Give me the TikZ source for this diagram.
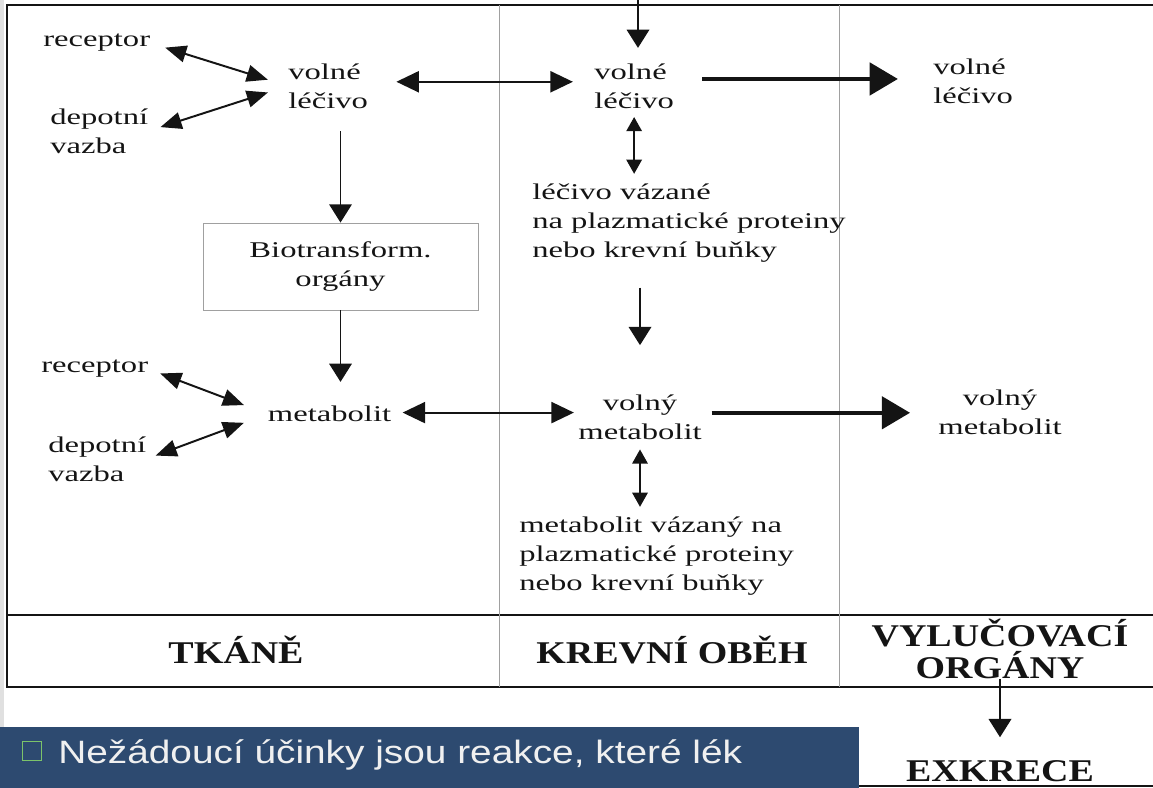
\documentclass[tikz,border=0pt]{standalone}
\usepackage{fontspec}
\setmainfont{Liberation Serif}
\newfontfamily\bodyfont{Liberation Serif}[FakeStretch=1.45]
\newfontfamily\headfont{Liberation Serif}[FakeStretch=1.2]
\newfontfamily\slidefont{Liberation Sans}[FakeStretch=1.2]
\usetikzlibrary{arrows.meta}

\definecolor{ink}{HTML}{141414}
\definecolor{rule}{HTML}{A0A0A0}
\definecolor{slide}{HTML}{2D4A70}
\definecolor{bullet}{HTML}{7CC36A}

\begin{document}
\begin{tikzpicture}[x=0.025cm, y=-0.025cm, text=ink]
  \useasboundingbox (0,0) rectangle (1153,788);
  \tikzset{
    lbl/.style={font=\bodyfont\fontsize{16}{20.5}\selectfont,align=left,inner sep=0pt},
    head/.style={font=\headfont\bfseries\fontsize{22.5}{22.5}\selectfont,align=center,inner sep=0pt},
    arr/.style={ink,line width=1.4pt,-{Triangle[length=13pt,width=16pt]}},
    twoway/.style={ink,line width=1.4pt,{Triangle[length=15pt,width=12pt]}-{Triangle[length=15pt,width=12pt]}},
    bigway/.style={ink,line width=1.4pt,{Triangle[length=16pt,width=15pt]}-{Triangle[length=16pt,width=15pt]}},
    thick arr/.style={ink,line width=2.6pt,-{Triangle[length=20pt,width=23pt]}},
    small way/.style={ink,line width=1pt,{Triangle[length=10pt,width=11pt]}-{Triangle[length=10pt,width=11pt]}}
  }

  % Page edge and the frame of the table; thin rules split the three columns.
  \fill[black!12] (0,0) rectangle (4,727);
  \draw[ink,line width=1.5pt] (1153,5) -- (7,5) -- (7,687) -- (1153,687);
  \draw[ink,line width=1.5pt] (7,615) -- (1153,615);
  \draw[rule,line width=0.6pt] (499,5) -- (499,687);
  \draw[rule,line width=0.6pt] (839,5) -- (839,687);

  % Column titles.
  \node[head,anchor=base] (tissue) at (236,663) {TKÁNĚ};
  \node[head,anchor=base] (blood) at (672,663) {KREVNÍ OBĚH};
  \node[head] (organs) at (1000,649) {VYLUČOVACÍ\\ORGÁNY};
  \node[head,anchor=base] (excr) at (1000,781) {EXKRECE};
  \draw[ink,line width=1.5pt] (858,786) -- (1153,786);

  % Upper half: the drug itself.
  \node[lbl,anchor=west] (recA) at (43,43) {receptor};
  \node[lbl,anchor=west] (depA) at (50,131) {depotní\\vazba};
  \node[lbl,anchor=west] (drugT) at (288,86) {volné\\léčivo};
  \node[lbl,anchor=west] (drugB) at (594,86) {volné\\léčivo};
  \node[lbl,anchor=west] (drugE) at (933,81) {volné\\léčivo};
  \node[lbl,anchor=west] (boundB) at (532,223) {léčivo vázané\\na plazmatické proteiny\\nebo krevní buňky};
  \node[draw=rule,line width=0.6pt,minimum width=6.875cm,minimum height=2.175cm,
        lbl,align=center] (bio) at (340.5,266.5) {Biotransform.\\orgány};
  \coordinate (dose) at (638,0);

  % Lower half: the metabolite.
  \node[lbl,anchor=west] (recB) at (41,369) {receptor};
  \node[lbl,anchor=west] (depB) at (48,459) {depotní\\vazba};
  \node[lbl] (metT) at (329.5,414) {metabolit};
  \node[lbl,align=center] (metB) at (640,417) {volný\\metabolit};
  \node[lbl,align=center] (metE) at (1000,412) {volný\\metabolit};
  \node[lbl,anchor=west] (boundM) at (519,556) {metabolit vázaný na\\plazmatické proteiny\\nebo krevní buňky};

  % Arrows of the drug.
  \draw[arr] (dose) -- (dose |- drugB.north) [shorten >=11pt];
  \draw[twoway,shorten <=11pt,shorten >=15pt] (recA.east) -- (drugT.west);
  \draw[twoway,shorten <=9pt,shorten >=15pt] (depA.east) -- (drugT.west);
  \draw[bigway,shorten <=20pt,shorten >=15pt] ([yshift=3pt]drugT.east) -- ([yshift=3pt]drugT.east -| drugB.west);
  \draw[thick arr,shorten <=20pt,shorten >=25pt] ([yshift=5pt]drugB.east) -- ([yshift=5pt]drugB.east -| drugE.west);
  \draw[small way,shorten <=6pt,shorten >=7pt] (drugB.south) -- (drugB.south |- boundB.north);
  \draw[arr,shorten <=16pt] (drugT.south -| bio.north) -- (bio.north);
  \draw[arr,shorten <=18pt,shorten >=35pt] (boundB.south -| metB.north) -- (metB.north);

  % Arrows of the metabolite.
  \draw[arr,shorten >=17pt] (bio.south) -- (bio.south |- metT.north);
  \draw[twoway,shorten <=9pt,shorten >=18pt] (recB.east) -- (metT.west);
  \draw[twoway,shorten <=7pt,shorten >=18pt] (depB.east) -- (metT.west);
  \draw[bigway,shorten <=8pt,shorten >=3pt] ([yshift=1pt]metT.east) -- ([yshift=1pt]metT.east -| metB.west);
  \draw[thick arr,shorten <=7pt,shorten >=20pt] ([yshift=3pt]metB.east) -- ([yshift=3pt]metB.east -| metE.west);
  \draw[small way,shorten <=7pt,shorten >=7pt] (metB.south) -- (metB.south |- boundM.north);
  \draw[arr,shorten >=16pt] (organs.south) -- (organs.south |- excr.north);

  % Slide text running in below the figure.
  \fill[slide] (0,727) rectangle (859,788);
  \node[draw=bullet,line width=1pt,minimum size=0.47cm,inner sep=0pt] (box) at (32,751) {};
  \node[font=\slidefont\fontsize{23}{26}\selectfont,text=white!94!black,anchor=base west,inner sep=0pt]
    (note) at (58,763) {Nežádoucí účinky jsou reakce, které lék};
\end{tikzpicture}
\end{document}
